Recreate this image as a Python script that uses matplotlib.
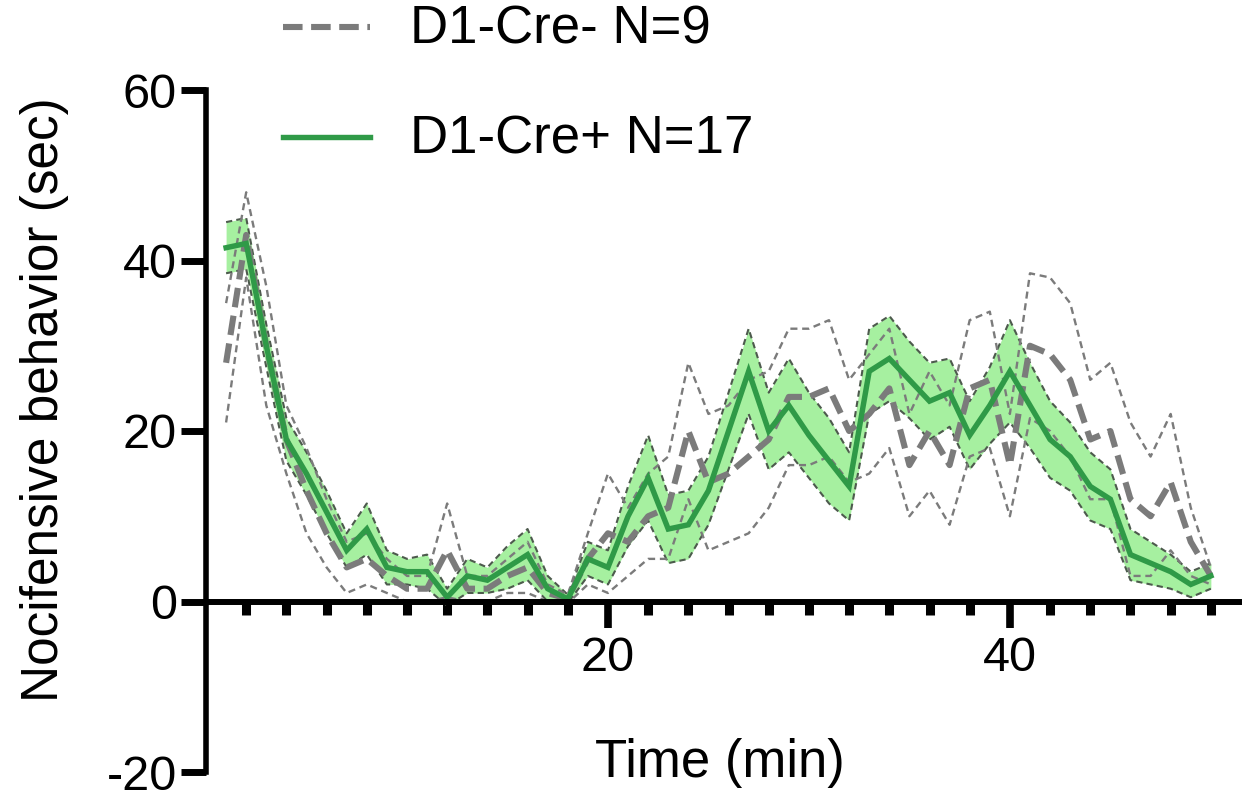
import matplotlib
matplotlib.use('Agg')
import matplotlib.pyplot as plt
from matplotlib.lines import Line2D
import numpy as np

# ---- data ----
time_min = list(range(1, 51))

cre_pos_mean = [41.5, 42, 30, 19, 15, 10.5, 6, 8.5, 4, 3.5,
                3.5, 0.5, 3, 2.5, 4, 5.5, 1.5, 0.3, 5, 4,
                10, 14.5, 8.5, 9, 13, 20, 27, 20, 23, 19.5,
                16.5, 13.5, 27, 28.5, 26, 23.5, 24.5, 19.5, 23, 27,
                23, 19, 17, 13.5, 12, 5.5, 4.5, 3.5, 2, 3]
cre_pos_sem = [3, 3, 2.5, 2.5, 2.5, 2.5, 2, 3, 2, 1.5,
               2, 1, 2, 1.5, 2.5, 3, 1.5, 0.5, 2, 2,
               3.5, 5, 4, 4, 4, 4.5, 5, 4.5, 5.5, 5,
               5, 4, 5, 5, 4.5, 4.5, 4, 4, 4.5, 6,
               5, 4.5, 4, 4, 3.5, 3, 2.5, 2, 1.5, 1.5]

cre_neg_mean = [28, 43, 30, 19, 13, 8, 4, 5, 3, 1.5,
                1.5, 6, 1.5, 1.5, 3, 4, 1, 0.3, 5, 8,
                7, 10, 11, 20, 14, 15, 17, 19, 24, 24,
                25, 20, 22, 25, 16, 20, 16, 25, 26, 16,
                30, 29, 26, 19, 20, 12, 10, 14, 7, 3]
cre_neg_sem = [7, 5, 7, 4, 5, 4, 3, 3, 2, 1.5,
               1.5, 5.5, 1.5, 1.5, 2, 3, 1, 0.5, 3, 7,
               4, 5, 6, 8, 8, 8, 9, 8, 8, 8,
               8, 6, 7, 7, 6, 7, 7, 8, 8, 6,
               8.5, 9, 9, 7, 8, 9, 7, 8, 4, 1]

legend_labels = ['D1-Cre- N=9', 'D1-Cre+ N=17']
x_major_ticks = [20, 40]
x_minor_ticks = list(range(2, 51, 2))
y_ticks = [-20, 0, 20, 40, 60]
x_label = 'Time (min)'
y_label = 'Nocifensive behavior (sec)'

# ---- styling ----
plt.rcParams['font.family'] = ['Liberation Sans', 'DejaVu Sans']
W, H = 1243, 798
fig = plt.figure(figsize=(W / 100, H / 100), dpi=100)
ax = fig.add_axes([206 / W, 1 - 772 / H, (1239 - 206) / W, (772 - 90) / H])
ax.set_xlim(0, 51.4)
ax.set_ylim(-20, 60)

t = np.array(time_min)
pm, ps = np.array(cre_pos_mean), np.array(cre_pos_sem)
nm, ns = np.array(cre_neg_mean), np.array(cre_neg_sem)

green_fill = '#a6f0a0'
green_line = '#2f9a47'
gray = '#7b7b7b'

# green band
ax.fill_between(t, pm - ps, pm + ps, color=green_fill, lw=0, zorder=1)
for edge in (pm - ps, pm + ps):
    ax.plot(t, edge, color='#4d5a4d', lw=1.5, ls=(0, (3, 2)), zorder=2)

# gray band edges (thin dashed)
for edge in (nm - ns, nm + ns):
    ax.plot(t, edge, color=gray, lw=1.7, ls=(0, (3, 2)), zorder=3)

# gray mean thick dashed
ax.plot(t, nm, color=gray, lw=4.4, ls=(0, (3.2, 1.4)), zorder=4)
# green mean
ax.plot(t, pm, color=green_line, lw=3.9, zorder=5, solid_joinstyle='miter')

# spines
for s in ('top', 'right'):
    ax.spines[s].set_visible(False)
ax.spines['bottom'].set_position(('data', 0))
ax.spines['bottom'].set_linewidth(4.3)
ax.spines['left'].set_linewidth(4.0)
ax.spines['bottom'].set_zorder(6)

ax.set_xticks(x_major_ticks)
ax.set_xticklabels([str(v) for v in x_major_ticks])
ax.set_xticks([v for v in x_minor_ticks if v not in x_major_ticks], minor=True)
ax.set_yticks(y_ticks)
ax.set_yticklabels([str(v) for v in y_ticks])

ax.tick_params(axis='x', which='major', length=19, width=5.5, labelsize=35, pad=6)
ax.tick_params(axis='x', which='minor', length=9, width=6.5)
ax.tick_params(axis='y', which='major', length=18, width=5, labelsize=35, pad=3)

fig.text(45 / W, 1 - 400 / H, y_label, rotation=90, ha='center', va='center', fontsize=37)
fig.text(720 / W, 1 - 763 / H, x_label, ha='center', va='center', fontsize=38)

# legend (manual)
fig.add_artist(Line2D([283 / W, 370 / W], [1 - 27 / H, 1 - 27 / H], color=gray, lw=4.4,
                      ls=(0, (3.2, 1.4)), transform=fig.transFigure))
fig.add_artist(Line2D([283 / W, 370 / W], [1 - 137 / H, 1 - 137 / H], color=green_line, lw=3.9,
                      transform=fig.transFigure))
fig.text(410 / W, 1 - 30 / H, legend_labels[0], ha='left', va='center', fontsize=38)
fig.text(410 / W, 1 - 139 / H, legend_labels[1], ha='left', va='center', fontsize=38)

fig.savefig('out.png', dpi=100)
